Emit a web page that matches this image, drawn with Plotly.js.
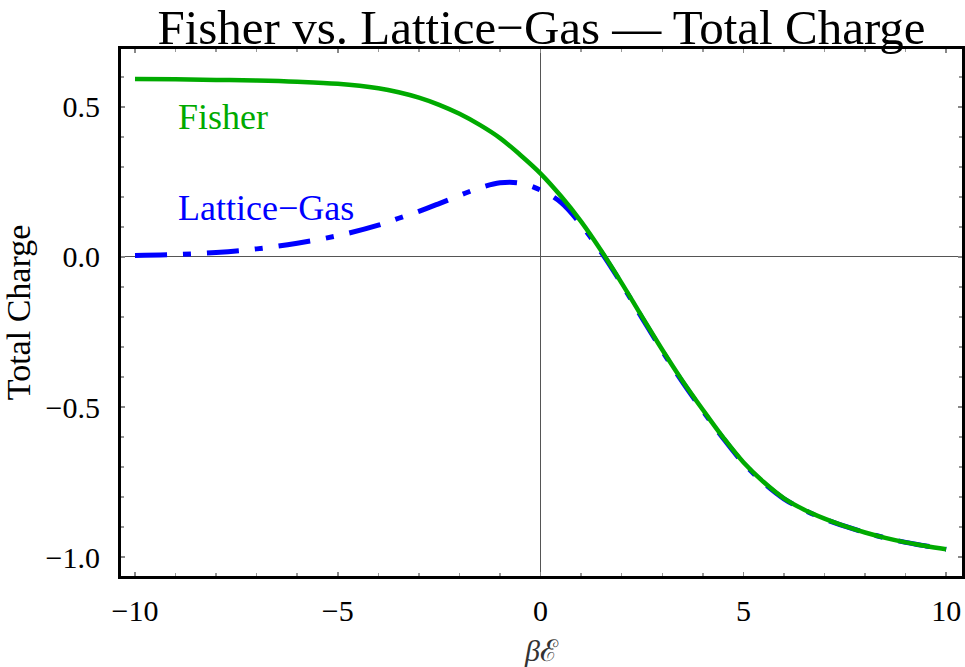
<!DOCTYPE html>
<html>
<head>
<meta charset="utf-8">
<script src="https://cdn.plot.ly/plotly-3.0.1.min.js"></script>
<style>
html,body{margin:0;padding:0;background:#fff;}
#chart{width:965px;height:667px;}
</style>
</head>
<body>
<div id="chart"></div>
<script>
// beta*E values
const betaE = [-10,-9,-8,-7,-6,-5,-4,-3.5,-3,-2.5,-2,-1.5,-1,-0.5,0,0.5,1,1.5,2,2.5,3,3.5,4,4.5,5,5.5,6,6.5,7,7.5,8,8.5,9,9.5,10];
// Fisher total charge
const fisher = [0.593,0.592,0.590,0.588,0.584,0.577,0.562,0.549,0.531,0.507,0.477,0.440,0.396,0.340,0.278,0.203,0.118,0.020,-0.087,-0.199,-0.309,-0.413,-0.509,-0.601,-0.684,-0.750,-0.804,-0.842,-0.872,-0.897,-0.918,-0.936,-0.951,-0.963,-0.974];
// Lattice-Gas total charge
const latticeGas = [0.005,0.008,0.015,0.027,0.046,0.071,0.106,0.129,0.152,0.178,0.205,0.230,0.247,0.246,0.223,0.182,0.107,0.015,-0.090,-0.203,-0.313,-0.417,-0.513,-0.604,-0.687,-0.753,-0.806,-0.843,-0.873,-0.897,-0.918,-0.936,-0.951,-0.963,-0.974];

const xTicks = [-10,-5,0,5,10];
const xTickText = ['\u221210','\u22125','0','5','10'];
const yTicks = [-1.0,-0.5,0.0,0.5];
const yTickText = ['\u22121.0','\u22120.5','0.0','0.5'];

const serif = 'Liberation Serif, Times New Roman, serif';

const traces = [
  {x: betaE, y: latticeGas, type:'scatter', mode:'lines', name:'Lattice\u2212Gas',
   line:{color:'rgb(0,0,255)', width:5, dash:'32px,16px,8px,16px', shape:'spline', smoothing:1}},
  {x: betaE, y: fisher, type:'scatter', mode:'lines', name:'Fisher',
   line:{color:'rgb(0,170,0)', width:4.5, shape:'spline', smoothing:1}}
];

const axisCommon = {
  showline:true, linecolor:'#000', linewidth:3, mirror:'allticks',
  ticks:'inside', ticklen:4, tickcolor:'#888', tickwidth:1.5,
  showgrid:false, zeroline:true, zerolinecolor:'#555', zerolinewidth:1,
  tickfont:{family:serif, size:30, color:'#000'}
};

const layout = {
  width:965, height:667,
  margin:{l:121, r:3, t:49, b:91},
  paper_bgcolor:'#fff', plot_bgcolor:'#fff',
  showlegend:false,
  title:{text:'Fisher vs. Lattice\u2212Gas \u2014 Total Charge', font:{family:serif, size:49, color:'#000'},
         x:0.5, xref:'paper', y:0.96, yref:'container', yanchor:'middle'},
  xaxis: Object.assign({}, axisCommon, {
    range:[-10.345, 10.39], tickvals:xTicks, ticktext:xTickText, ticklabelstandoff:6,
    minor:{ticks:'inside', dtick:1, tick0:0, ticklen:3, tickcolor:'#999', tickwidth:1.5},
    title:{text:'<i>\u03b2</i>\u2130', font:{family:serif, size:30, color:'#333'}, standoff:16}
  }),
  yaxis: Object.assign({}, axisCommon, {
    range:[-1.063, 0.693], tickvals:yTicks, ticktext:yTickText, ticklabelstandoff:12,
    minor:{ticks:'inside', dtick:0.1, tick0:0, ticklen:3, tickcolor:'#999', tickwidth:1.5},
    title:{text:'Total Charge', font:{family:serif, size:34, color:'#000'}, standoff:10}
  }),
  annotations:[
    {text:'Fisher', x:-8.98, y:0.467, xref:'x', yref:'y', xanchor:'left', yanchor:'middle', showarrow:false,
     font:{family:serif, size:36, color:'rgb(0,170,0)'}},
    {text:'Lattice\u2212Gas', x:-8.98, y:0.163, xref:'x', yref:'y', xanchor:'left', yanchor:'middle', showarrow:false,
     font:{family:serif, size:36, color:'rgb(0,0,255)'}}
  ]
};

Plotly.newPlot('chart', traces, layout, {displayModeBar:false, staticPlot:true});
</script>
</body>
</html>
